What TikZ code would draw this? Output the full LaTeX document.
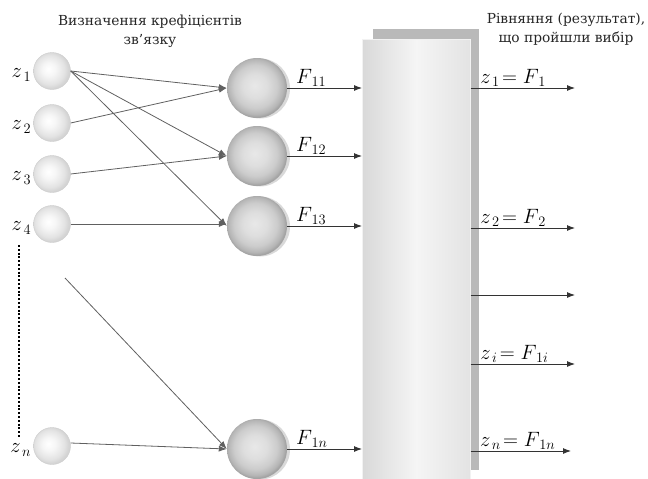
\documentclass[tikz,border=0pt]{standalone}
\usepackage{fontspec}
\setmainfont{DejaVu Serif}
\usepackage{tikz}
\usetikzlibrary{arrows.meta, positioning, calc, shadings, backgrounds}
\DeclareMathSizes{19.5}{20.74}{14.4}{10}
\pgfdeclareradialshading{inshade}{\pgfpoint{-5bp}{3bp}}{color(0bp)=(white); color(9bp)=(gray!7); color(20bp)=(gray!22); color(25bp)=(gray!34); color(50bp)=(gray!34)}
\pgfdeclareradialshading{sumshade}{\pgfpoint{-2bp}{2bp}}{color(0bp)=(gray!18); color(10bp)=(gray!26); color(18bp)=(gray!40); color(23bp)=(gray!58); color(25bp)=(gray!72); color(50bp)=(gray!72)}
\tikzset{
	inball/.style={circle, minimum size=37pt, inner sep=0pt, shading=inshade, draw=gray!40, line width=0.4pt},
	sumball/.style={circle, minimum size=60pt, inner sep=0pt, shading=sumshade},
	halo/.style={fill=gray!30},
	linkarr/.style={-{Latex[length=8pt, width=6pt]}, gray!75!black, line width=0.8pt},
	outarr/.style={-{Latex[length=8pt, width=6pt]}, black!80, line width=0.9pt},
	flabel/.style={font=\fontsize{19.5}{20}\selectfont, text=black, inner sep=1pt},
	toptext/.style={font=\fontsize{13.8}{19}\selectfont, align=center, text=black!85},
}
\begin{document}
\begin{tikzpicture}[x=1pt, y=-1pt]
	\useasboundingbox (0,0) rectangle (648,479);
	% Selection block (back and front panel)
	\fill[gray!55] (373,29) rectangle (479,470);
	\node[draw=gray!10, line width=0.6pt, minimum width=108pt, minimum height=441pt, anchor=north west, inner sep=0pt,
		left color=gray!30, right color=gray!22, middle color=gray!8] (sel) at (362,39) {};
	% Input neurons
	\node[inball] (z1) at (52,71) {};
	\node[inball] (z2) at (52,123) {};
	\node[inball] (z3) at (52,174) {};
	\node[inball] (z4) at (52,224) {};
	\node[inball] (zn) at (52,446) {};
	\node[flabel, left=1pt of z1, yshift=-4pt] {$z_{\,1}$};
	\node[flabel, left=1pt of z2, yshift=-4pt] {$z_{\,2}$};
	\node[flabel, left=1pt of z3, yshift=-4pt] {$z_{\,3}$};
	\node[flabel, left=1pt of z4, yshift=-4pt] {$z_{\,4}$};
	\node[flabel, left=1pt of zn, yshift=-4pt] {$z_{\,n}$};
	\draw[line width=2.2pt, dash pattern=on 2pt off 1.8pt] (19,245) -- (19,437);
	\coordinate (zdots) at (65,278);
	% Partial models
	\node[sumball] (n1) at (257,88) {};
	\node[sumball] (n2) at (257,156) {};
	\node[sumball] (n3) at (257,226) {};
	\node[sumball] (nn) at (257,449) {};
	\begin{scope}[on background layer]
		\foreach \n in {n1,n2,n3,nn}
			\fill[halo] ([xshift=3pt, yshift=-0.5pt]\n.center) circle (30pt);
	\end{scope}
	% Links
	\draw[linkarr] (z1.east) -- (n1.west);
	\draw[linkarr] (z1.east) -- (n2.west);
	\draw[linkarr] (z1.east) -- (n3.west);
	\draw[linkarr] (z2.east) -- (n1.west);
	\draw[linkarr] (z3.east) -- (n2.west);
	\draw[linkarr] (z4.east) -- (z4.east -| n3.west);
	\draw[linkarr] (zdots) -- (nn.west);
	\draw[linkarr] ([yshift=3pt]zn.east) -- (nn.west);
	% Into the selection block
	\draw[outarr] (n1.east) -- (n1.east -| sel.west) node[flabel, pos=0.1, above right] {$F_{\,11}$};
	\draw[outarr] (n2.east) -- (n2.east -| sel.west) node[flabel, pos=0.1, above right] {$F_{\,12}$};
	\draw[outarr] (n3.east) -- (n3.east -| sel.west) node[flabel, pos=0.1, above right] {$F_{\,13}$};
	\draw[outarr] (nn.east) -- (nn.east -| sel.west) node[flabel, pos=0.1, above right] {$F_{\,1n}$};
	% Outputs
	\coordinate (o1) at (575,88);
	\coordinate (o2) at (575,228);
	\coordinate (o3) at (575,295);
	\coordinate (o4) at (575,364);
	\coordinate (o5) at (571,451);
	\draw[outarr] (o1 -| sel.east) -- (o1) node[flabel, pos=0.08, above right] {$z_{\,1}\!= F_{\,1}$};
	\draw[outarr] (o2 -| sel.east) -- (o2) node[flabel, pos=0.08, above right] {$z_{\,2}\!= F_{\,2}$};
	\draw[outarr] (o3 -| sel.east) -- (o3);
	\draw[outarr] (o4 -| sel.east) -- (o4) node[flabel, pos=0.08, above right] {$z_{\,i}\!= F_{\,1i}$};
	\draw[outarr] (o5 -| sel.east) -- (o5) node[flabel, pos=0.08, above right] {$z_{\,n}\!= F_{\,1n}$};
	% Captions
	\node[toptext] (capl) at (150,31) {Визначення крефіцієнтів\\зв’язку};
	\node[toptext] (capr) at (566,29) {Рівняння (результат),\\що пройшли вибір};
\end{tikzpicture}
\end{document}
